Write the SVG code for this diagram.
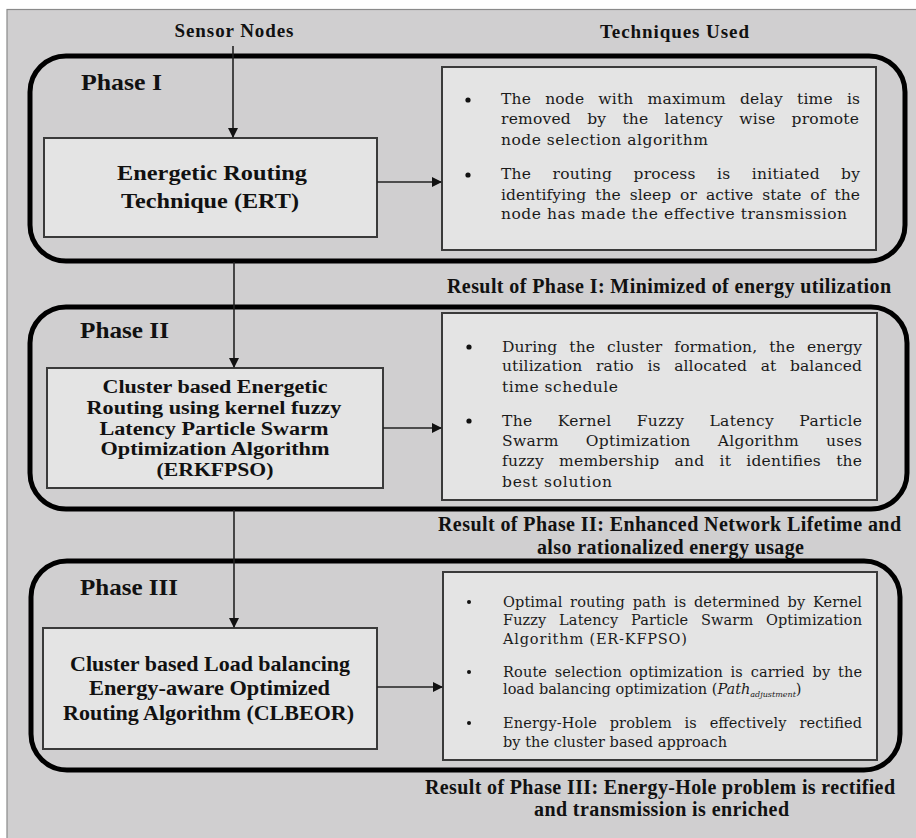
<svg xmlns="http://www.w3.org/2000/svg" width="916" height="838" viewBox="0 0 916 838">
<style>
.bg{fill:#d0cfd0;stroke:#8a8a8a;stroke-width:1.2}
.phase{fill:none;stroke:#000;stroke-width:5}
.box{fill:#e4e4e4;stroke:#3a3a3a;stroke-width:2}
.conn{stroke:#222;stroke-width:1.6;fill:none}
.lbl{font-family:"Liberation Serif","Times New Roman",serif;font-weight:bold;fill:#111}
.hd{font-size:19px;text-anchor:middle}
.ph{font-size:24px}
.ttl{font-size:22px;text-anchor:middle}
.ttl2{font-size:18.5px;text-anchor:middle}
.res{font-size:20px;text-anchor:middle}
.tx{font-family:"DejaVu Serif","Liberation Serif",serif;font-size:15.5px;fill:#1a1a1a}
.tx3{font-family:"DejaVu Serif","Liberation Serif",serif;font-size:14.5px;fill:#1a1a1a}
.bul{fill:#111}
</style>
<defs>
<marker id="ah" markerWidth="10" markerHeight="10" refX="9" refY="5" orient="auto" markerUnits="userSpaceOnUse">
<path d="M0,0 L10,5 L0,10 Z" fill="#111"/>
</marker>
</defs>
<rect x="0" y="0" width="916" height="838" fill="#ffffff"/>
<rect class="bg" x="7" y="9.5" width="912" height="832"/>

<text class="lbl hd" x="234" y="37" textLength="119" lengthAdjust="spacing">Sensor Nodes</text>
<text class="lbl hd" x="674.5" y="38" textLength="149" lengthAdjust="spacing">Techniques Used</text>

<g id="phase1">
<rect class="phase" x="30" y="56" width="875" height="205" rx="36"/>
<text class="lbl ph" x="81" y="90" textLength="81" lengthAdjust="spacingAndGlyphs">Phase I</text>
</g>
<g id="ert">
<rect class="box" x="44" y="138" width="333" height="99"/>
<text class="lbl ttl" x="212" y="180" textLength="190" lengthAdjust="spacingAndGlyphs">Energetic Routing</text>
<text class="lbl ttl" x="210" y="208" textLength="178" lengthAdjust="spacingAndGlyphs">Technique (ERT)</text>
</g>
<g id="tech1">
<rect class="box" x="442" y="67" width="434" height="183"/>
<circle class="bul" cx="468" cy="100" r="2.6"/>
<circle class="bul" cx="468" cy="175" r="2.6"/>
<text class="tx" x="501" y="104" word-spacing="9" textLength="359" lengthAdjust="spacing">The node with maximum delay time is</text>
<text class="tx" x="501" y="124" word-spacing="11" textLength="358" lengthAdjust="spacing">removed by the latency wise promote</text>
<text class="tx" x="501" y="145" textLength="207" lengthAdjust="spacing">node selection algorithm</text>
<text class="tx" x="501" y="179" word-spacing="16" textLength="359" lengthAdjust="spacing">The routing process is initiated by</text>
<text class="tx" x="501" y="200" word-spacing="4" textLength="359" lengthAdjust="spacing">identifying the sleep or active state of the</text>
<text class="tx" x="501" y="219" textLength="346" lengthAdjust="spacing">node has made the effective transmission</text>
</g>
<text class="lbl res" x="669" y="293" textLength="444" lengthAdjust="spacing">Result of Phase I: Minimized of energy utilization</text>

<g id="phase2">
<rect class="phase" x="30" y="307" width="877" height="202" rx="36"/>
<text class="lbl ph" x="80" y="338" textLength="89" lengthAdjust="spacingAndGlyphs">Phase II</text>
</g>
<g id="erkfpso">
<rect class="box" x="47" y="368" width="336" height="120"/>
<text class="lbl ttl2" x="215" y="393" textLength="225" lengthAdjust="spacingAndGlyphs">Cluster based Energetic</text>
<text class="lbl ttl2" x="214" y="414" textLength="255" lengthAdjust="spacingAndGlyphs">Routing using kernel fuzzy</text>
<text class="lbl ttl2" x="214" y="434.5" textLength="229" lengthAdjust="spacingAndGlyphs">Latency Particle Swarm</text>
<text class="lbl ttl2" x="215" y="455" textLength="229" lengthAdjust="spacingAndGlyphs">Optimization Algorithm</text>
<text class="lbl ttl2" x="215" y="476" textLength="117" lengthAdjust="spacingAndGlyphs">(ERKFPSO)</text>
</g>
<g id="tech2">
<rect class="box" x="442" y="313" width="435" height="187"/>
<circle class="bul" cx="469" cy="347" r="2.6"/>
<circle class="bul" cx="469" cy="421" r="2.6"/>
<text class="tx" x="502" y="352" word-spacing="7" textLength="360" lengthAdjust="spacing">During the cluster formation, the energy</text>
<text class="tx" x="502" y="371" word-spacing="8.5" textLength="360" lengthAdjust="spacing">utilization ratio is allocated at balanced</text>
<text class="tx" x="502" y="392" textLength="116" lengthAdjust="spacing">time schedule</text>
<text class="tx" x="502" y="426" word-spacing="20" textLength="360" lengthAdjust="spacing">The Kernel Fuzzy Latency Particle</text>
<text class="tx" x="502" y="446" word-spacing="22" textLength="360" lengthAdjust="spacing">Swarm Optimization Algorithm uses</text>
<text class="tx" x="502" y="466" word-spacing="10" textLength="360" lengthAdjust="spacing">fuzzy membership and it identifies the</text>
<text class="tx" x="502" y="487" textLength="110" lengthAdjust="spacing">best solution</text>
</g>
<text class="lbl res" x="669.5" y="531" textLength="463" lengthAdjust="spacing">Result of Phase II: Enhanced Network Lifetime and</text>
<text class="lbl res" x="670.5" y="554" textLength="267" lengthAdjust="spacing">also rationalized energy usage</text>

<g id="phase3">
<rect class="phase" x="31" y="561" width="869" height="209" rx="36"/>
<text class="lbl ph" x="80" y="595" textLength="98" lengthAdjust="spacingAndGlyphs">Phase III</text>
</g>
<g id="clbeor">
<rect class="box" x="43" y="628" width="334" height="121"/>
<text class="lbl ttl" x="210" y="671" textLength="280" lengthAdjust="spacingAndGlyphs">Cluster based Load balancing</text>
<text class="lbl ttl" x="209.5" y="695" textLength="241" lengthAdjust="spacingAndGlyphs">Energy-aware Optimized</text>
<text class="lbl ttl" x="208.5" y="720" textLength="291" lengthAdjust="spacingAndGlyphs">Routing Algorithm (CLBEOR)</text>
</g>
<g id="tech3">
<rect class="box" x="443" y="572" width="434" height="188"/>
<circle class="bul" cx="469" cy="602" r="2"/>
<circle class="bul" cx="469" cy="672" r="2"/>
<circle class="bul" cx="469" cy="723" r="2"/>
<text class="tx3" x="503" y="607" word-spacing="3" textLength="359" lengthAdjust="spacing">Optimal routing path is determined by Kernel</text>
<text class="tx3" x="503" y="625" word-spacing="8" textLength="359" lengthAdjust="spacing">Fuzzy Latency Particle Swarm Optimization</text>
<text class="tx3" x="503" y="644" textLength="184" lengthAdjust="spacing">Algorithm (ER-KFPSO)</text>
<text class="tx3" x="503" y="677" word-spacing="3" textLength="359" lengthAdjust="spacing">Route selection optimization is carried by the</text>
<text class="tx3" x="503" y="694">load balancing optimization (<tspan font-style="italic">Path</tspan><tspan font-style="italic" font-size="8" dy="2.5">adjustment</tspan><tspan dy="-2.5">)</tspan></text>
<text class="tx3" x="503" y="728" word-spacing="8" textLength="359" lengthAdjust="spacing">Energy-Hole problem is effectively rectified</text>
<text class="tx3" x="503" y="747" textLength="224" lengthAdjust="spacing">by the cluster based approach</text>
</g>
<text class="lbl res" x="660" y="794" textLength="470" lengthAdjust="spacing">Result of Phase III: Energy-Hole problem is rectified</text>
<text class="lbl res" x="661.5" y="816" textLength="255" lengthAdjust="spacing">and transmission is enriched</text>

<g id="connectors">
<line class="conn" x1="233" y1="46" x2="233" y2="137" marker-end="url(#ah)"/>
<line class="conn" x1="377" y1="182" x2="441" y2="182" marker-end="url(#ah)"/>
<line class="conn" x1="234" y1="262" x2="234" y2="367" marker-end="url(#ah)"/>
<line class="conn" x1="383" y1="428" x2="441" y2="428" marker-end="url(#ah)"/>
<line class="conn" x1="234" y1="510" x2="234" y2="627" marker-end="url(#ah)"/>
<line class="conn" x1="377" y1="687" x2="442" y2="687" marker-end="url(#ah)"/>
</g>
</svg>
